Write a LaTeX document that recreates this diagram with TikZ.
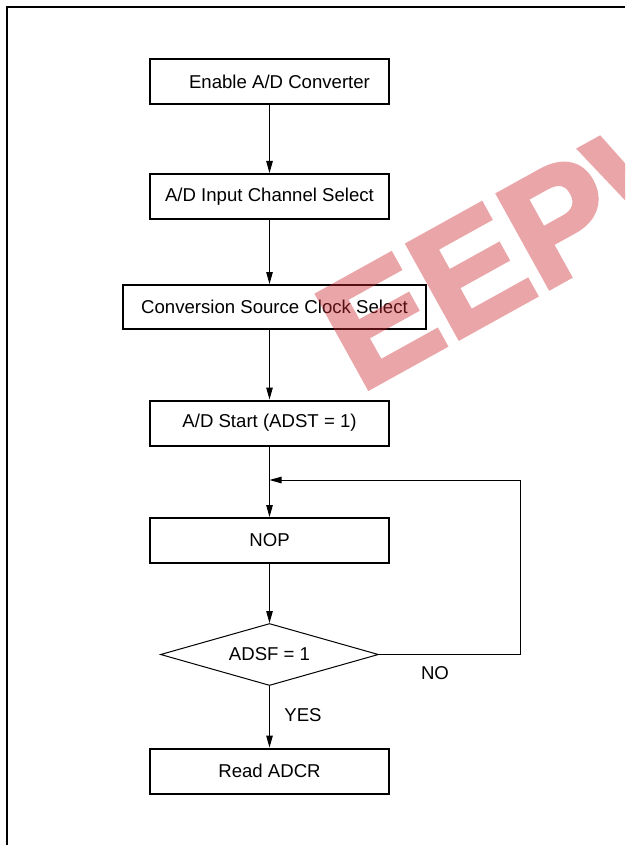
\documentclass[tikz,border=0pt]{standalone}
\usepackage{fontspec}
\setmainfont{Liberation Sans}
\newfontfamily\wmfont{Liberation Sans}[BoldFeatures={FakeBold=3}]
\usepackage{xcolor}
\usepackage{tikz}
\usetikzlibrary{shapes.geometric, arrows.meta, positioning, calc}

\definecolor{wmred}{RGB}{205,40,48}

\begin{document}
\begin{tikzpicture}[
    x=1pt, y=-1pt,
    stepbox/.style={rectangle, draw=black, line width=2pt, minimum width=239pt, minimum height=45pt, align=center, inner sep=0pt, font=\fontsize{18.6}{22}\selectfont},
    widebox/.style={stepbox, minimum width=303pt, minimum height=44pt},
    test/.style={diamond, draw=black, line width=1pt, aspect=3.5, minimum width=218pt, minimum height=62pt, inner sep=0pt, font=\fontsize{18.6}{22}\selectfont},
    lbl/.style={inner sep=0pt, font=\fontsize{18.6}{22}\selectfont},
    flow/.style={->, line width=1pt},
    >={Triangle[length=12pt, width=6.5pt]}
]
\useasboundingbox (0,0) rectangle (625,845);

% Frame
\draw[line width=2pt] (6.5,845) -- (6.5,7.5) -- (625,7.5);

% Steps
\node[stepbox] (enable) at (269.5,81.5) {\hspace*{20pt}Enable A/D Converter};
\node[stepbox] (chan) at (269.5,196.5) {A/D Input Channel Select};
\node[widebox] (clk) at (274.5,307) {Conversion Source Clock Select};
\node[stepbox] (start) at (269.5,423) {A/D Start (ADST = 1)};
\node[stepbox] (nop) at (269.5,540.5) {NOP};
\node[test] (adsf) at (269.5,654.5) {ADSF = 1};
\node[stepbox] (read) at (269.5,771) {Read ADCR};

% Labels
\node[lbl] (nolbl) at (435,673) {NO};
\node[lbl] (yeslbl) at (303,715) {YES};

% Loop points
\coordinate (join) at (269.5,480);
\coordinate (loop) at (520,480);

% Arrows down the chain
\foreach \a/\b in {enable/chan, chan/clk, clk/start, start/nop, nop/adsf, adsf/read}
    \draw[flow] (\a.south -| enable) -- (\b.north -| enable);

% NO branch back
\draw[flow] (adsf.east) -| (loop) -- (join);

% Watermark
\begin{scope}[transparency group, opacity=0.42]
\clip (0,0) rectangle (625,845);
\node[anchor=base west, rotate=29, inner sep=0pt, text=wmred,
      font=\wmfont\fontsize{155}{160}\selectfont\bfseries] (wm) at (360,393) {EEPW};
\end{scope}

\end{tikzpicture}
\end{document}
